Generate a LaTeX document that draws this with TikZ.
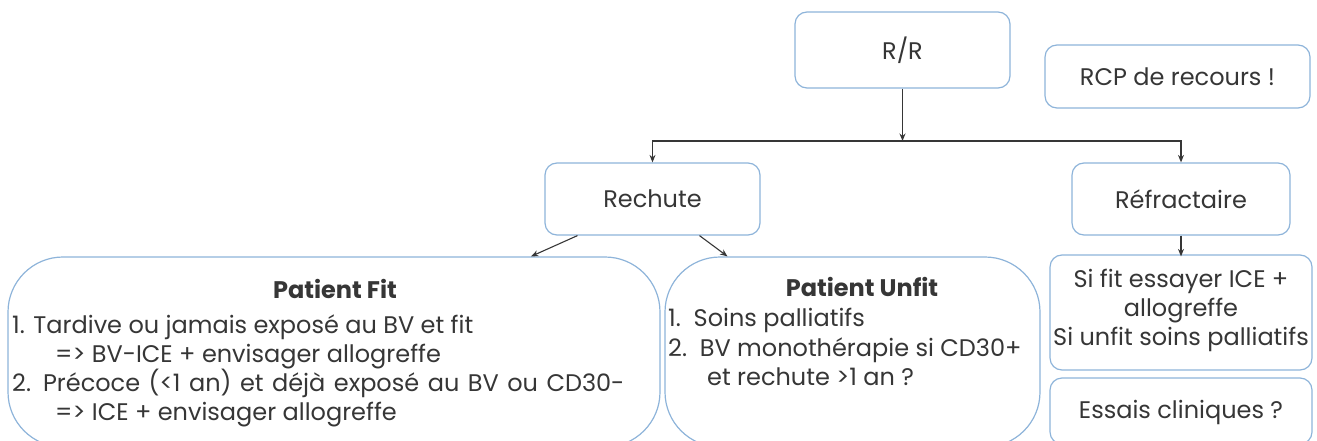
\documentclass[tikz,border=0pt]{standalone}
\usepackage{fontspec}
\setmainfont{Poppins}
\usetikzlibrary{arrows.meta}
\definecolor{bordc}{HTML}{8EB4DA}
\definecolor{txtc}{HTML}{363636}
\tikzset{
  box/.style={draw=bordc, line width=1.2pt, rounded corners=12pt, fill=white, inner sep=0pt},
  bigbox/.style={box, rounded corners=55pt},
  lbl/.style={text=txtc, font=\fontsize{24}{29}\selectfont, inner sep=0pt},
  line/.style={lbl, anchor=base west},
  arr/.style={draw=txtc, line width=1.1pt, -{Stealth[length=7.5pt,width=6pt]}},
}
\begin{document}
\begin{tikzpicture}[x=1pt,y=-1pt]
\useasboundingbox (0,0) rectangle (1317,441);
% boxes
\node[box, minimum width=215pt, minimum height=76pt] (rr) at (902.5,50) {};
\node[lbl] (rrt) at (rr.center) {R/R};
\node[box, minimum width=265pt, minimum height=63pt] (rcp) at (1177.5,76.5) {};
\node[lbl] (rcpt) at (rcp.center) {RCP de recours !};
\node[box, minimum width=215pt, minimum height=72pt] (rech) at (652.5,199) {};
\node[lbl] (recht) at (rech.center) {Rechute};
\node[box, minimum width=218pt, minimum height=72pt] (refr) at (1181,199) {};
\node[lbl] (refrt) at (refr.center) {Réfractaire};
\node[bigbox, minimum width=652pt, minimum height=190pt] (fit) at (334,352) {};
\node[bigbox, minimum width=375pt, minimum height=190pt] (unfit) at (852.5,352) {};
\node[box, minimum width=262pt, minimum height=115pt] (sifit) at (1181,312.5) {};
\node[box, minimum width=262pt, minimum height=66pt] (essais) at (1181,411) {};
% texts
\node[lbl, font=\fontsize{24}{29}\selectfont\bfseries, anchor=base] (fitt) at (335,298) {Patient Fit};
\node[line] (f1) at (12,333) {1. Tardive ou jamais exposé au BV et fit};
\node[line] (f2) at (55,362) {=> BV-ICE + envisager allogreffe};
\node[line] (f3) at (12,391) {2.\hspace{12pt}{\spaceskip=8.5pt plus 1pt Précoce (<1 an) et déjà exposé au BV ou CD30-}};
\node[line] (f4) at (55,420) {=> ICE + envisager allogreffe};
\node[lbl, font=\fontsize{24}{29}\selectfont\bfseries, anchor=base] (unfitt) at (862,296) {Patient Unfit};
\node[line] (u1) at (668,326) {1.\ \ Soins palliatifs};
\node[line] (u2) at (668,356) {2.\ \ BV monothérapie si CD30+};
\node[line] (u3) at (707,385) {et rechute >1 an ?};
\node[lbl, align=center] (sifitt) at ([yshift=2.5pt]sifit.center) {Si fit essayer ICE +\\allogreffe\\Si unfit soins palliatifs};
\node[lbl] (essaist) at ([yshift=-1pt]essais.center) {Essais cliniques ?};
% connectors
\coordinate (j) at (902.5,141);
\draw[arr] (rr.south) -- (j);
\draw[arr] (j) -| (rech.north);
\draw[arr] (j) -| (refr.north);
\draw[arr] ([xshift=-75pt]rech.south) -- ([xshift=197pt]fit.north);
\draw[arr] ([xshift=47pt]rech.south) -- ([xshift=-125pt]unfit.north);
\draw[arr] (refr.south) -- ([yshift=-2pt]sifit.north);
\end{tikzpicture}
\end{document}
